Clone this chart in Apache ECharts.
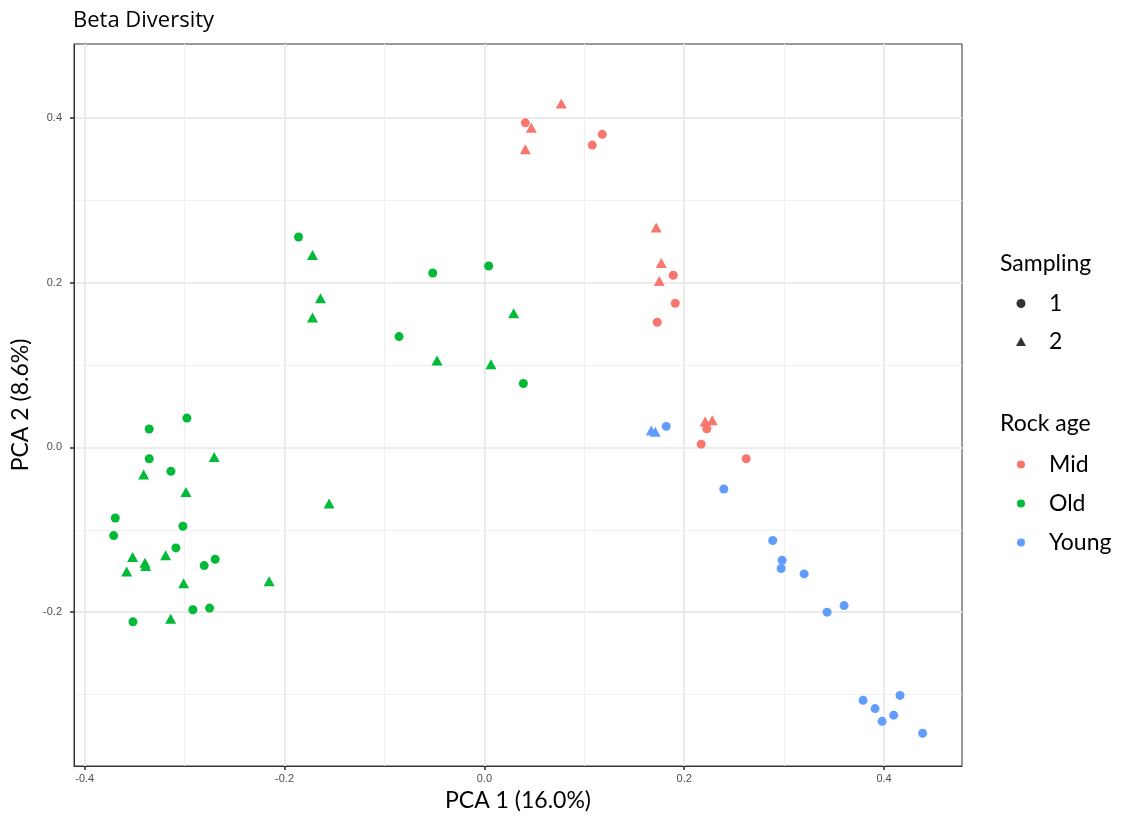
<!DOCTYPE html>
<html lang="en">
<head>
  <meta charset="UTF-8" />
  <title>Beta Diversity</title>
  <script src="https://cdn.jsdelivr.net/npm/echarts@6/dist/echarts.min.js"></script>
  <style>
    html, body, #main {
      margin: 0; padding: 0; width: 100%; height: 100%;
      background: #fff;
    }
  </style>
</head>
<body>
  <div id="main"></div>
  <script>
    const chart = echarts.init(document.getElementById('main'));

    // PCA coordinates [PCA1, PCA2], split by rock age and sampling
    const mid1 = [[0.041, 0.394], [0.108, 0.367], [0.118, 0.380], [0.189, 0.209], [0.191, 0.175],
      [0.173, 0.152], [0.2226, 0.0227], [0.217, 0.004], [0.262, -0.0137]];
    const mid2 = [[0.077, 0.4175], [0.047, 0.388], [0.041, 0.362], [0.172, 0.267], [0.177, 0.224],
      [0.175, 0.202], [0.221, 0.0315], [0.228, 0.033]];
    const old1 = [[-0.186, 0.2554], [-0.0517, 0.2117], [0.0043, 0.2202], [-0.0854, 0.1345], [0.039, 0.0776],
      [-0.2977, 0.0356], [-0.3354, 0.0223], [-0.3354, -0.0137], [-0.3137, -0.029], [-0.3694, -0.0856],
      [-0.3017, -0.0957], [-0.371, -0.107], [-0.3087, -0.122], [-0.2694, -0.1357], [-0.2804, -0.1434],
      [-0.2917, -0.197], [-0.275, -0.195], [-0.3517, -0.2117]];
    const old2 = [[-0.172, 0.2336], [-0.164, 0.181], [-0.172, 0.1576], [0.0293, 0.163], [-0.0474, 0.1055],
      [0.0066, 0.101], [-0.2704, -0.0117], [-0.341, -0.033], [-0.2987, -0.054], [-0.1554, -0.068],
      [-0.352, -0.133], [-0.319, -0.131], [-0.3397, -0.140], [-0.339, -0.144], [-0.358, -0.1507],
      [-0.301, -0.165], [-0.2154, -0.1624], [-0.314, -0.208]];
    const young1 = [[0.182, 0.0255], [0.2396, -0.0505], [0.2886, -0.113], [0.298, -0.137], [0.297, -0.147],
      [0.320, -0.1535], [0.343, -0.200], [0.360, -0.192], [0.379, -0.307], [0.391, -0.317],
      [0.398, -0.3325], [0.4096, -0.325], [0.416, -0.301], [0.4386, -0.347]];
    const young2 = [[0.167, 0.0206], [0.171, 0.019]];

    const ages = ['Mid', 'Old', 'Young'];
    const ageColors = ['#F8766D', '#00BA38', '#619CFF'];
    const samplings = ['1', '2'];
    const xTicks = [-0.4, -0.2, 0, 0.2, 0.4];
    const yTicks = [-0.2, 0, 0.2, 0.4];

    const groups = [
      [mid1, mid2],
      [old1, old2],
      [young1, young2]
    ];

    const labelFont = 'Lato, "Open Sans", sans-serif';

    const series = [];
    groups.forEach((g, i) => {
      g.forEach((pts, j) => {
        series.push({
          name: ages[i],
          type: 'scatter',
          data: pts,
          symbol: j === 0 ? 'circle' : 'triangle',
          symbolSize: j === 0 ? 9 : [11, 10],
          itemStyle: { color: ageColors[i], opacity: 1 },
          z: 3
        });
      });
    });
    // shape-only legend entries
    samplings.forEach((s, j) => {
      series.push({
        name: s,
        type: 'scatter',
        data: [],
        symbol: j === 0 ? 'circle' : 'triangle',
        itemStyle: { color: '#000' }
      });
    });

    const axisCommon = {
      type: 'value',
      nameLocation: 'middle',
      nameTextStyle: { fontFamily: labelFont, fontSize: 23, color: '#000' },
      axisLine: { show: true, onZero: false, lineStyle: { color: '#333', width: 1 } },
      axisLabel: { fontFamily: 'Liberation Sans, sans-serif', fontSize: 11, color: '#4D4D4D',
        formatter: v => v.toFixed(1) },
      splitLine: { show: true, lineStyle: { color: '#EBEBEB', width: 2 } },
      minorTick: { show: false, splitNumber: 2 },
      minorSplitLine: { show: true, lineStyle: { color: '#F0F0F0', width: 1 } }
    };

    chart.setOption({
      backgroundColor: '#fff',
      animation: false,
      title: {
        text: 'Beta Diversity',
        left: 73,
        top: 10,
        padding: 0,
        textStyle: { fontFamily: '"Open Sans", sans-serif', fontSize: 22, fontWeight: 'normal', color: '#000' }
      },
      grid: {
        left: 74, right: 161, top: 44, bottom: 52,
        show: true, borderColor: '#333', borderWidth: 1, backgroundColor: 'transparent'
      },
      xAxis: Object.assign({}, axisCommon, {
        name: 'PCA 1 (16.0%)',
        nameGap: 23,
        min: -0.4107,
        max: 0.478,
        axisTick: { show: true, length: 4, lineStyle: { color: '#333', width: 1.6 }, customValues: xTicks },
        axisLabel: Object.assign({}, axisCommon.axisLabel, { customValues: xTicks, margin: 7 })
      }),
      yAxis: Object.assign({}, axisCommon, {
        name: 'PCA 2 (8.6%)',
        nameGap: 41,
        min: -0.3867,
        max: 0.4897,
        axisTick: { show: true, length: 4, lineStyle: { color: '#333', width: 1.6 }, customValues: yTicks },
        axisLabel: Object.assign({}, axisCommon.axisLabel, { customValues: yTicks, margin: 12 })
      }),
      legend: [
        {
          data: samplings,
          orient: 'vertical',
          left: 1011,
          top: 287,
          itemWidth: 10,
          itemHeight: 9,
          itemGap: 15,
          selectedMode: false,
          textStyle: { fontFamily: labelFont, fontSize: 23, color: '#000', padding: [0, 0, 0, 18] }
        },
        {
          data: ages.map(a => ({ name: a, icon: 'circle' })),
          orient: 'vertical',
          left: 1012,
          top: 448,
          itemWidth: 8,
          itemHeight: 8,
          itemGap: 16,
          selectedMode: false,
          textStyle: { fontFamily: labelFont, fontSize: 23, color: '#000', padding: [0, 0, 0, 19] }
        }
      ],
      graphic: [
        { type: 'text', left: 1000, top: 252, style: { text: 'Sampling', font: '23px ' + labelFont, fill: '#000' } },
        { type: 'text', left: 1000, top: 412, style: { text: 'Rock age', font: '23px ' + labelFont, fill: '#000' } }
      ],
      series: series
    });
  </script>
</body>
</html>
